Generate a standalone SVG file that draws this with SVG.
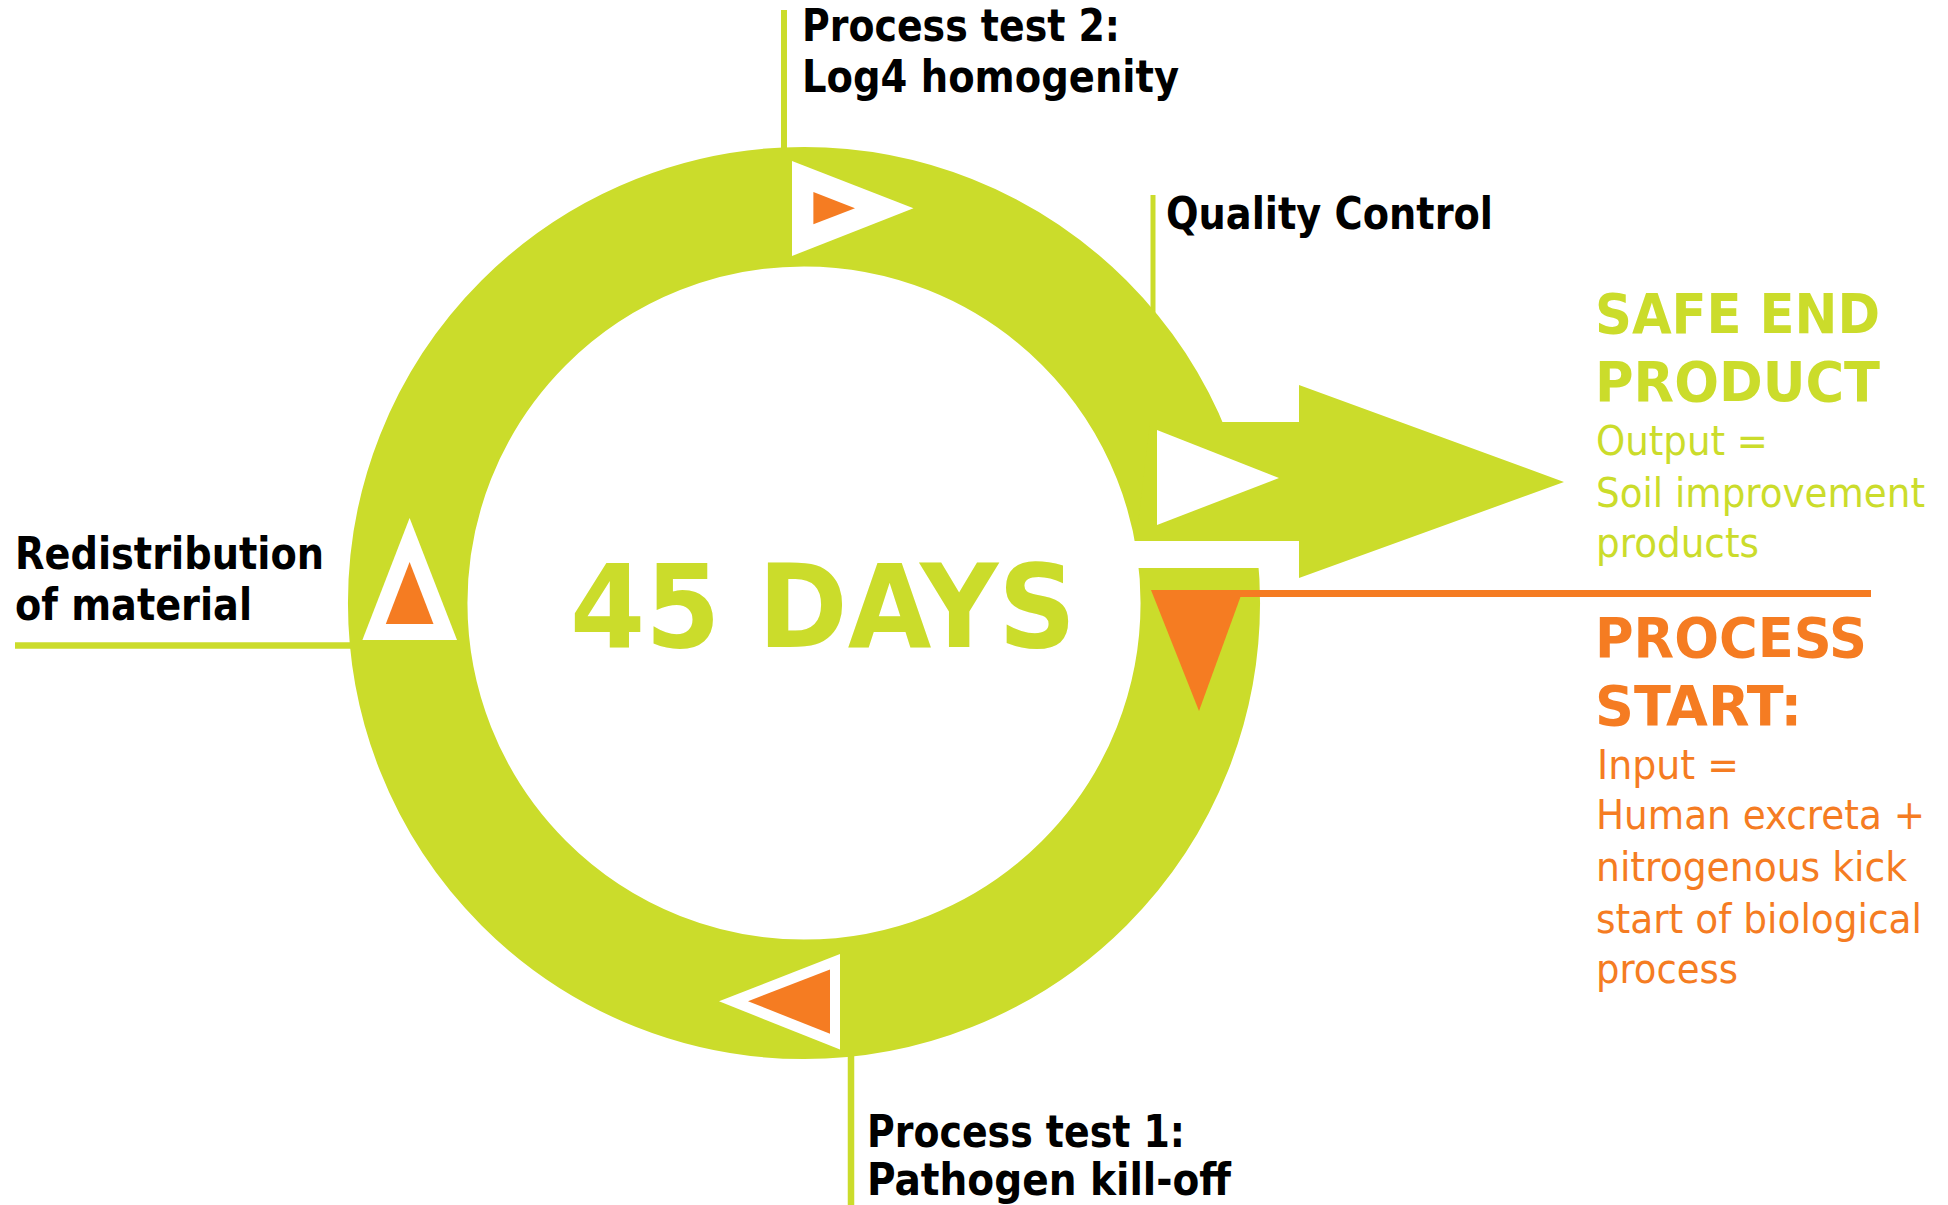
<svg xmlns="http://www.w3.org/2000/svg" width="1948" height="1205" viewBox="0 0 1948 1205">
<style>
.lbl{font-family:"DejaVu Sans Condensed","DejaVu Sans","Liberation Sans",sans-serif;font-stretch:condensed;font-weight:bold;font-size:44px;fill:#000000}
.gt{font-family:"DejaVu Sans Condensed","DejaVu Sans","Liberation Sans",sans-serif;font-stretch:condensed;fill:#CBDC2B}
.ot{font-family:"DejaVu Sans Condensed","DejaVu Sans","Liberation Sans",sans-serif;font-stretch:condensed;fill:#F57C22}
.big{font-weight:bold;font-size:56px}
.reg{font-size:40px}
.tick{stroke:#CBDC2B;fill:none}
.g{fill:#CBDC2B}
.o{fill:#F57C22}
.w{fill:#FFFFFF}
</style>
<rect x="0" y="0" width="1948" height="1205" fill="#FFFFFF"/>
<g id="connectors">
<line class="tick" x1="784" y1="10" x2="784" y2="150" stroke-width="6"/>
<line class="tick" x1="1153" y1="195" x2="1153" y2="318" stroke-width="5"/>
<line class="tick" x1="15" y1="645.5" x2="355" y2="645.5" stroke-width="6.5"/>
<line class="tick" x1="851" y1="1050" x2="851" y2="1205" stroke-width="6.5"/>
</g>
<g id="cycle">
<circle cx="804" cy="603" r="396.3" fill="none" stroke="#CBDC2B" stroke-width="119.5"/>
<rect class="w" x="1120" y="541" width="179" height="27"/>
<polygon class="g" points="1150,422 1299,422 1299,385 1564,482 1299,578 1299,541 1136,541"/>
</g>
<g id="output-arrow-marker">
<polygon class="w" points="1157,430 1279,478 1157,525"/>
</g>
<g id="start-marker">
<rect class="o" x="1200" y="590" width="671" height="7"/>
<polygon class="o" points="1151,590 1243,590 1199,711"/>
</g>
<g id="top-marker">
<polygon class="w" points="792,161 913.5,208.3 792,256"/>
<polygon class="o" points="813.4,192 855,208.3 813.4,224.3"/>
</g>
<g id="left-marker">
<polygon class="w" points="409.6,518 362.4,640 457,640"/>
<polygon class="o" points="409.6,562 385.8,624 433.5,624"/>
</g>
<g id="bottom-marker">
<polygon class="w" points="840,954 719,1001.3 840,1049.5"/>
<polygon class="o" points="830,969.4 748,1001.3 830,1033.7"/>
</g>
<g id="center-label">
<text class="gt" x="570" y="647" font-size="116" font-weight="bold" textLength="506" lengthAdjust="spacingAndGlyphs">45 DAYS</text>
</g>
<g id="process-test-2">
<text class="lbl" x="802" y="41" textLength="318" lengthAdjust="spacingAndGlyphs">Process test 2:</text>
<text class="lbl" x="802" y="92" textLength="377" lengthAdjust="spacingAndGlyphs">Log4 homogenity</text>
</g>
<g id="quality-control">
<text class="lbl" x="1166" y="229" textLength="327" lengthAdjust="spacingAndGlyphs">Quality Control</text>
</g>
<g id="redistribution">
<text class="lbl" x="15" y="569" textLength="309" lengthAdjust="spacingAndGlyphs">Redistribution</text>
<text class="lbl" x="15" y="620" textLength="237" lengthAdjust="spacingAndGlyphs">of material</text>
</g>
<g id="process-test-1">
<text class="lbl" x="867" y="1147" textLength="318" lengthAdjust="spacingAndGlyphs">Process test 1:</text>
<text class="lbl" x="867" y="1195" textLength="364" lengthAdjust="spacingAndGlyphs">Pathogen kill-off</text>
</g>
<g id="safe-end-product">
<text class="gt big" x="1595" y="333" textLength="285" lengthAdjust="spacingAndGlyphs">SAFE END</text>
<text class="gt big" x="1595" y="401" textLength="285" lengthAdjust="spacingAndGlyphs">PRODUCT</text>
<text class="gt reg" x="1596" y="455" textLength="172" lengthAdjust="spacingAndGlyphs">Output =</text>
<text class="gt reg" x="1596" y="507" textLength="329" lengthAdjust="spacingAndGlyphs">Soil improvement</text>
<text class="gt reg" x="1596" y="557" textLength="163" lengthAdjust="spacingAndGlyphs">products</text>
</g>
<g id="process-start">
<text class="ot big" x="1595" y="657" textLength="272" lengthAdjust="spacingAndGlyphs">PROCESS</text>
<text class="ot big" x="1595" y="725" textLength="207" lengthAdjust="spacingAndGlyphs">START:</text>
<text class="ot reg" x="1597" y="779" textLength="142" lengthAdjust="spacingAndGlyphs">Input =</text>
<text class="ot reg" x="1596" y="829" textLength="329" lengthAdjust="spacingAndGlyphs">Human excreta +</text>
<text class="ot reg" x="1596" y="881" textLength="311" lengthAdjust="spacingAndGlyphs">nitrogenous kick</text>
<text class="ot reg" x="1596" y="933" textLength="326" lengthAdjust="spacingAndGlyphs">start of biological</text>
<text class="ot reg" x="1596" y="983" textLength="142" lengthAdjust="spacingAndGlyphs">process</text>
</g>
</svg>
